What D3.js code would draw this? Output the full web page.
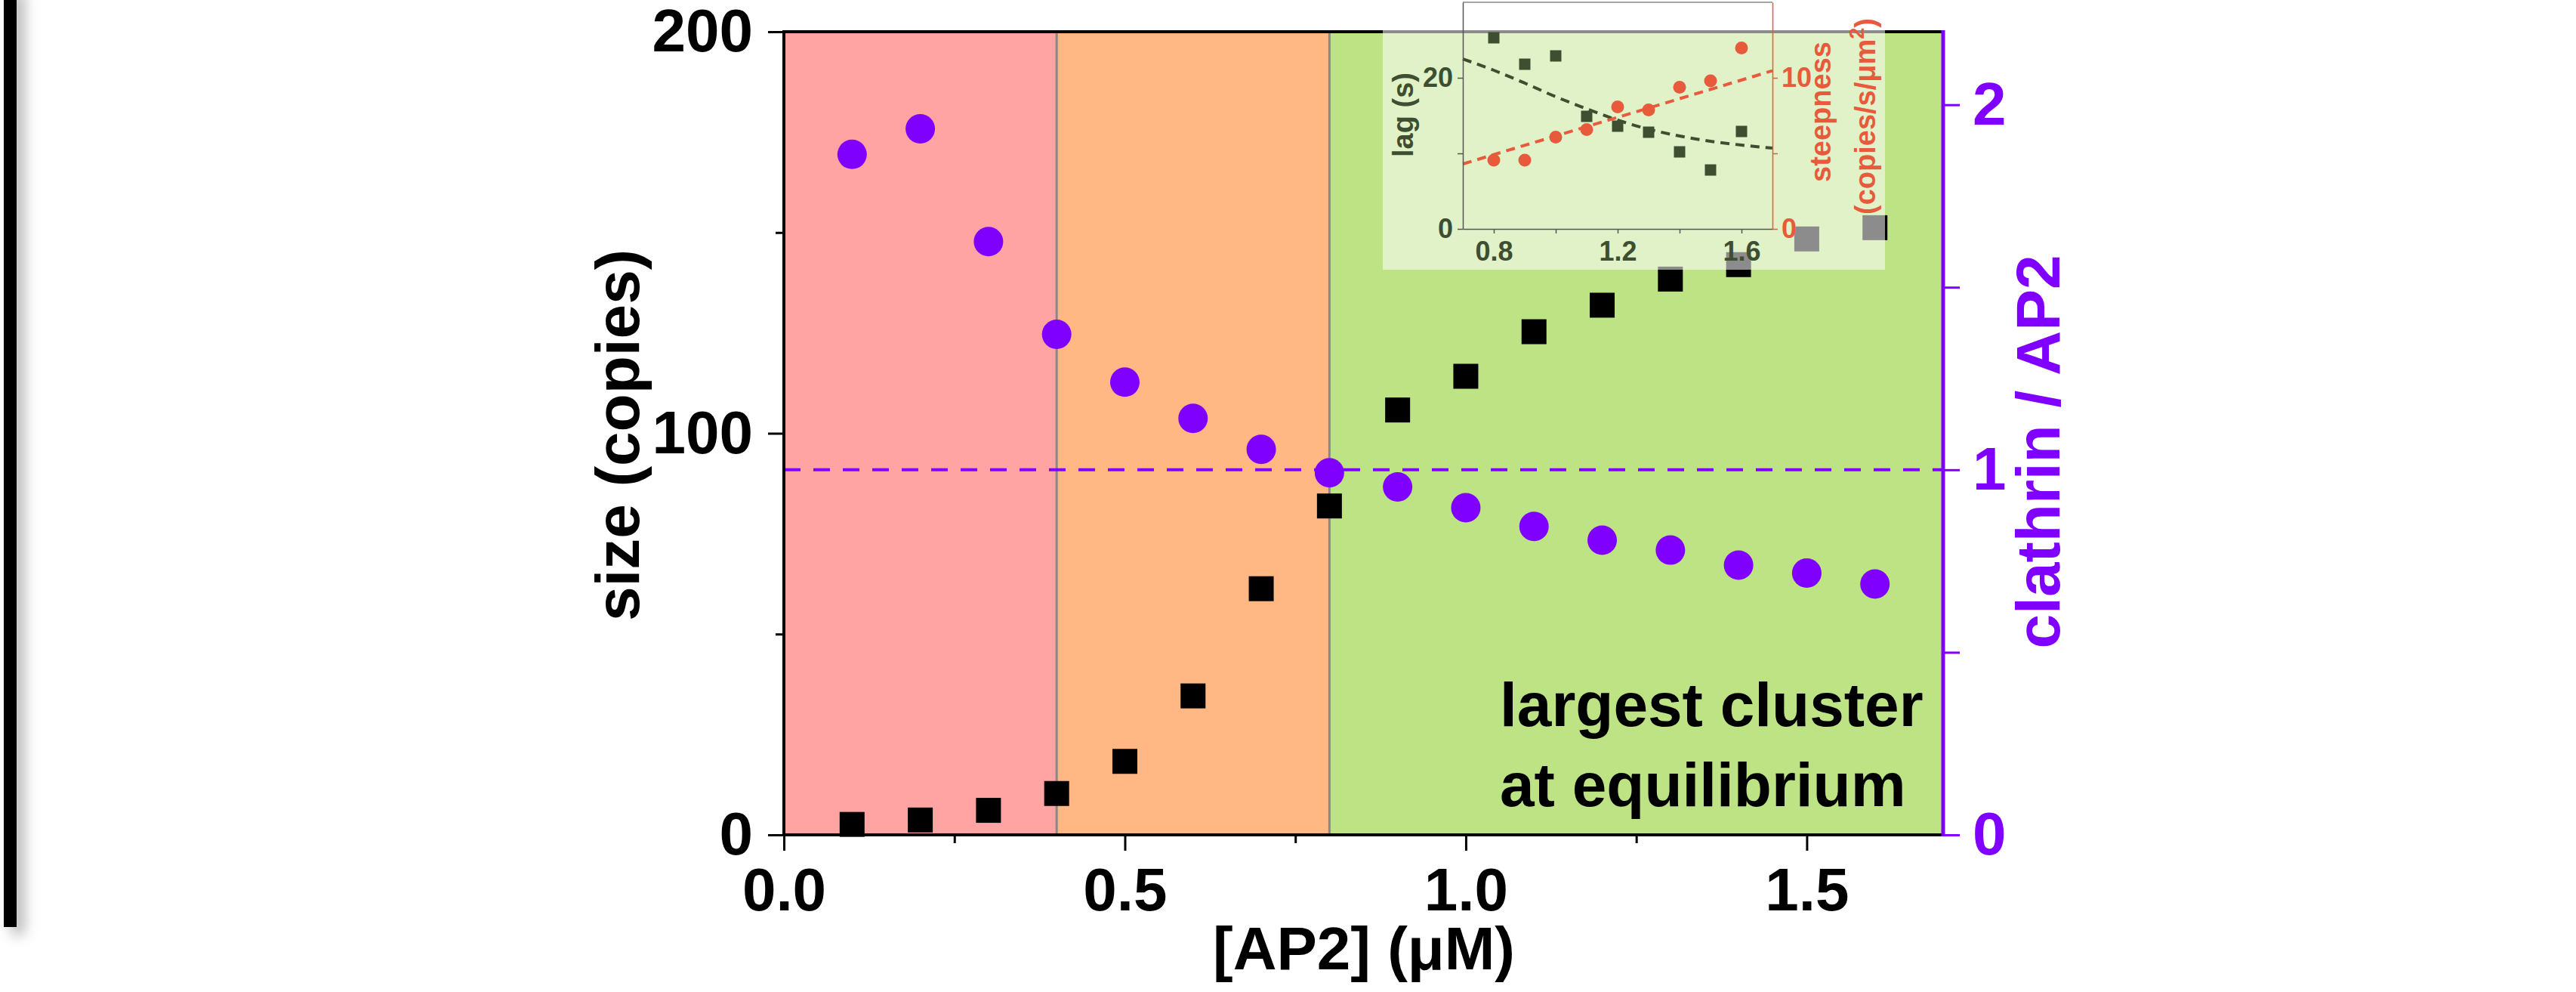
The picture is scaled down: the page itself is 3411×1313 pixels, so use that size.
<!DOCTYPE html>
<html>
<head>
<meta charset="utf-8">
<script src="https://cdn.jsdelivr.net/npm/d3@7"></script>
<style>
  html, body { margin: 0; padding: 0; background: #fff; }
  svg { display: block; font-family: "Liberation Sans", Arial, sans-serif; }
</style>
</head>
<body>
<svg id="chart" width="3411" height="1313"></svg>
<script>
// main panel data
const ap2 = [0.1, 0.2, 0.3, 0.4, 0.5, 0.6, 0.7, 0.8, 0.9, 1.0, 1.1, 1.2, 1.3, 1.4, 1.5, 1.6]
const clusterSize = [2.6, 3.7, 6.1, 10.3, 18.3, 34.6, 61.3, 81.9, 105.8, 114.2, 125.3, 131.9, 138.4, 142.0, 148.4, 151.2]
const clathrinPerAp2 = [1.864, 1.934, 1.625, 1.371, 1.240, 1.141, 1.056, 0.992, 0.953, 0.896, 0.845, 0.807, 0.780, 0.739, 0.717, 0.687]

const regionEdges = [0, 0.4, 0.8, 1.7]
const regionColors = ['#ffa3a3', '#ffb883', '#bde385']

const xTicks = [0, 0.5, 1.0, 1.5]
const xMinorTicks = [0.25, 0.75, 1.25]
const sizeTicks = [0, 100, 200]
const sizeMinorTicks = [50, 150]
const ratioTicks = [0, 1, 2]
const ratioMinorTicks = [0.5, 1.5]

// inset data
const insetAp2 = [0.8, 0.9, 1.0, 1.1, 1.2, 1.3, 1.4, 1.5, 1.6]
const lagSeconds = [25.3, 21.8, 22.9, 14.9, 13.6, 12.8, 10.2, 7.8, 12.9]
const steepness = [4.55, 4.55, 6.07, 6.58, 8.08, 7.88, 9.38, 9.8, 11.97]
const lagFitX = [0.7, 0.8, 0.9, 1.0, 1.1, 1.2, 1.3, 1.4, 1.5, 1.6, 1.7]
const lagFitY = [22.5, 21.0, 19.3, 17.5, 15.9, 14.4, 13.2, 12.3, 11.6, 11.1, 10.7]
const steepFitX = [0.7, 1.7]
const steepFitY = [4.3, 10.47]

const insetXTicks = [0.8, 1.2, 1.6]
const insetXMinorTicks = [1.0, 1.4]
const lagTicks = [0, 20]
const lagMinorTicks = [10]
const steepTicks = [0, 10]
const steepMinorTicks = [5]

const PURPLE = '#8000ff'
const OLIVE = '#3e4e30'
const ORANGE = '#e85a3c'

var svg = d3.select('#chart')

// frame geometry
var plot = { left: 1038, right: 2573, top: 42, bottom: 1105 }

var x = d3.scaleLinear().domain([0, 1.7]).range([plot.left, plot.right])
var ySize = d3.scaleLinear().domain([0, 200]).range([plot.bottom, plot.top])
var yRatio = d3.scaleLinear().domain([0, 2.2]).range([plot.bottom, plot.top])

// black bar on the far left, with its soft shadow
var defs = svg.append('defs')
var shadow = defs.append('filter').attr('id', 'barShadow')
  .attr('x', '-200%').attr('y', '-5%').attr('width', '600%').attr('height', '110%')
shadow.append('feDropShadow')
  .attr('dx', 10).attr('dy', 10).attr('stdDeviation', 9)
  .attr('flood-color', '#000').attr('flood-opacity', 0.3)

svg.append('rect')
  .attr('x', 5).attr('y', -20)
  .attr('width', 17).attr('height', 1247)
  .style('fill', '#000')
  .attr('filter', 'url(#barShadow)')

// background regions
svg.append('g').selectAll('rect')
  .data(regionColors)
  .join('rect')
  .attr('x', (d, i) => x(regionEdges[i]))
  .attr('y', plot.top)
  .attr('width', (d, i) => x(regionEdges[i + 1]) - x(regionEdges[i]))
  .attr('height', plot.bottom - plot.top)
  .style('fill', d => d)

svg.append('g').selectAll('line')
  .data(regionEdges.slice(1, -1))
  .join('line')
  .attr('x1', d => x(d)).attr('x2', d => x(d))
  .attr('y1', plot.top).attr('y2', plot.bottom)
  .style('stroke', '#888').style('stroke-width', 3)

// ratio = 1 reference line
svg.append('line')
  .attr('x1', plot.left).attr('x2', plot.right)
  .attr('y1', yRatio(1)).attr('y2', yRatio(1))
  .style('stroke', PURPLE).style('stroke-width', 4)
  .style('stroke-dasharray', '22,17')

// markers
svg.append('g').selectAll('rect')
  .data(ap2)
  .join('rect')
  .attr('x', d => x(d) - 16.5)
  .attr('y', (d, i) => ySize(clusterSize[i]) - 16.5)
  .attr('width', 33).attr('height', 33)
  .style('fill', '#000')

svg.append('g').selectAll('circle')
  .data(ap2)
  .join('circle')
  .attr('cx', d => x(d))
  .attr('cy', (d, i) => yRatio(clathrinPerAp2[i]))
  .attr('r', 19.5)
  .style('fill', PURPLE)

// label inside the plot
var note = svg.append('text')
  .attr('x', 1986)
  .style('font-size', '82px').style('font-weight', 'bold').style('fill', '#000')
note.append('tspan').attr('y', 961).text('largest cluster')
note.append('tspan').attr('x', 1986).attr('y', 1067).text('at equilibrium')

// axes
var axisFont = function (g, size, color) {
  g.selectAll('text')
    .style('font-size', size + 'px').style('font-weight', 'bold')
    .style('font-family', '"Liberation Sans", Arial, sans-serif')
    .style('fill', color)
  g.select('.domain').remove()
}

var xAxis = svg.append('g')
  .attr('transform', 'translate(0,' + plot.bottom + ')')
  .call(d3.axisBottom(x).tickValues(xTicks).tickFormat(d3.format('.1f')).tickSize(21).tickPadding(22))
axisFont(xAxis, 80, '#000')
xAxis.selectAll('line').style('stroke', '#000').style('stroke-width', 3)

svg.append('g')
  .attr('transform', 'translate(0,' + plot.bottom + ')')
  .call(d3.axisBottom(x).tickValues(xMinorTicks).tickFormat('').tickSize(11))
  .call(g => g.select('.domain').remove())
  .selectAll('line').style('stroke', '#000').style('stroke-width', 3)

var yAxisLeft = svg.append('g')
  .attr('transform', 'translate(' + plot.left + ',0)')
  .call(d3.axisLeft(ySize).tickValues(sizeTicks).tickFormat(d3.format('d')).tickSize(21).tickPadding(20))
axisFont(yAxisLeft, 80, '#000')
yAxisLeft.selectAll('line').style('stroke', '#000').style('stroke-width', 3)

svg.append('g')
  .attr('transform', 'translate(' + plot.left + ',0)')
  .call(d3.axisLeft(ySize).tickValues(sizeMinorTicks).tickFormat('').tickSize(11))
  .call(g => g.select('.domain').remove())
  .selectAll('line').style('stroke', '#000').style('stroke-width', 3)

var yAxisRight = svg.append('g')
  .attr('transform', 'translate(' + plot.right + ',0)')
  .call(d3.axisRight(yRatio).tickValues(ratioTicks).tickFormat(d3.format('d')).tickSize(22).tickPadding(17))
axisFont(yAxisRight, 80, PURPLE)
yAxisRight.selectAll('line').style('stroke', PURPLE).style('stroke-width', 3)

svg.append('g')
  .attr('transform', 'translate(' + plot.right + ',0)')
  .call(d3.axisRight(yRatio).tickValues(ratioMinorTicks).tickFormat('').tickSize(22))
  .call(g => g.select('.domain').remove())
  .selectAll('line').style('stroke', PURPLE).style('stroke-width', 3)

// plot frame
svg.append('path')
  .attr('d', 'M' + plot.right + ',' + plot.top + 'H' + plot.left + 'V' + plot.bottom + 'H' + plot.right)
  .style('fill', 'none').style('stroke', '#000').style('stroke-width', 4)
svg.append('line')
  .attr('x1', plot.right).attr('x2', plot.right)
  .attr('y1', plot.top - 2).attr('y2', plot.bottom + 2)
  .style('stroke', PURPLE).style('stroke-width', 5)

// axis titles
svg.append('text')
  .attr('transform', 'translate(' + 1806 + ',1283)')
  .attr('text-anchor', 'middle')
  .style('font-size', '80px').style('font-weight', 'bold')
  .text('[AP2] (\u03bcM)')

svg.append('text')
  .attr('transform', 'translate(846,576) rotate(-90)')
  .attr('text-anchor', 'middle')
  .style('font-size', '82px').style('font-weight', 'bold')
  .text('size (copies)')

svg.append('text')
  .attr('transform', 'translate(2727,598) rotate(-90)')
  .attr('text-anchor', 'middle')
  .style('font-size', '82px').style('font-weight', 'bold').style('fill', PURPLE)
  .text('clathrin / AP2')

// ---- inset ----
var inset = { left: 1937, right: 2347, top: 3, bottom: 303 }

// pale veil behind the inset
svg.append('rect')
  .attr('x', 1831).attr('y', 0)
  .attr('width', 2496 - 1831).attr('height', 357)
  .style('fill', '#fff').style('opacity', 0.55)

var ix = d3.scaleLinear().domain([0.7, 1.7]).range([inset.left, inset.right])
var iyLag = d3.scaleLinear().domain([0, 30]).range([inset.bottom, inset.top])
var iySteep = d3.scaleLinear().domain([0, 15]).range([inset.bottom, inset.top])

var ig = svg.append('g')

ig.append('line')
  .attr('x1', inset.left).attr('x2', inset.right)
  .attr('y1', inset.top).attr('y2', inset.top)
  .style('stroke', '#888').style('stroke-width', 1.5)

ig.append('path')
  .datum(lagFitX)
  .attr('d', d3.line().x(d => ix(d)).y((d, i) => iyLag(lagFitY[i])).curve(d3.curveMonotoneX))
  .style('fill', 'none').style('stroke', OLIVE).style('stroke-width', 4)
  .style('stroke-dasharray', '12,8')

ig.append('path')
  .datum(steepFitX)
  .attr('d', d3.line().x(d => ix(d)).y((d, i) => iySteep(steepFitY[i])))
  .style('fill', 'none').style('stroke', ORANGE).style('stroke-width', 4)
  .style('stroke-dasharray', '12,8')

ig.append('g').selectAll('rect')
  .data(insetAp2)
  .join('rect')
  .attr('x', d => ix(d) - 7.5)
  .attr('y', (d, i) => iyLag(lagSeconds[i]) - 7.5)
  .attr('width', 15).attr('height', 15)
  .style('fill', OLIVE)

ig.append('g').selectAll('circle')
  .data(insetAp2)
  .join('circle')
  .attr('cx', d => ix(d))
  .attr('cy', (d, i) => iySteep(steepness[i]))
  .attr('r', 8.5)
  .style('fill', ORANGE)

var insetAxis = function (g, color) {
  g.selectAll('text')
    .style('font-size', '36px').style('font-weight', 'bold')
    .style('font-family', '"Liberation Sans", Arial, sans-serif')
    .style('fill', color)
  g.selectAll('line').style('stroke', color).style('stroke-width', 1.5)
  g.select('.domain').style('stroke', color).style('stroke-width', 1.5)
}

var ixAxis = ig.append('g')
  .attr('transform', 'translate(0,' + inset.bottom + ')')
  .call(d3.axisBottom(ix).tickValues(insetXTicks.concat(insetXMinorTicks))
    .tickFormat(d => insetXTicks.indexOf(d) >= 0 ? d3.format('.1f')(d) : '')
    .tickSize(6).tickSizeOuter(0).tickPadding(10))
insetAxis(ixAxis, OLIVE)
ixAxis.select('.domain').style('stroke', '#555')
ixAxis.selectAll('line').style('stroke', '#555')

var iyLeft = ig.append('g')
  .attr('transform', 'translate(' + inset.left + ',0)')
  .call(d3.axisLeft(iyLag).tickValues(lagTicks.concat(lagMinorTicks))
    .tickFormat(d => lagTicks.indexOf(d) >= 0 ? d : '')
    .tickSize(7).tickSizeOuter(0).tickPadding(6))
insetAxis(iyLeft, OLIVE)
iyLeft.select('.domain').style('stroke', '#555')
iyLeft.selectAll('line').style('stroke', '#555')

var iyRight = ig.append('g')
  .attr('transform', 'translate(' + inset.right + ',0)')
  .call(d3.axisRight(iySteep).tickValues(steepTicks.concat(steepMinorTicks))
    .tickFormat(d => steepTicks.indexOf(d) >= 0 ? d : '')
    .tickSize(7).tickSizeOuter(0).tickPadding(5))
insetAxis(iyRight, ORANGE)

ig.append('text')
  .attr('transform', 'translate(1871,152) rotate(-90)')
  .attr('text-anchor', 'middle')
  .style('font-size', '38px').style('font-weight', 'bold').style('fill', OLIVE)
  .text('lag (s)')

ig.append('text')
  .attr('transform', 'translate(2424,148) rotate(-90)')
  .attr('text-anchor', 'middle')
  .style('font-size', '38px').style('font-weight', 'bold').style('fill', ORANGE)
  .text('steepness')

var unit = ig.append('text')
  .attr('transform', 'translate(2483,154) rotate(-90)')
  .attr('text-anchor', 'middle')
  .style('font-size', '38px').style('font-weight', 'bold').style('fill', ORANGE)
unit.append('tspan').text('(copies/s/\u03bcm')
unit.append('tspan').attr('dy', -15).style('font-size', '27px').text('2')
unit.append('tspan').attr('dy', 15).text(')')
</script>
</body>
</html>
